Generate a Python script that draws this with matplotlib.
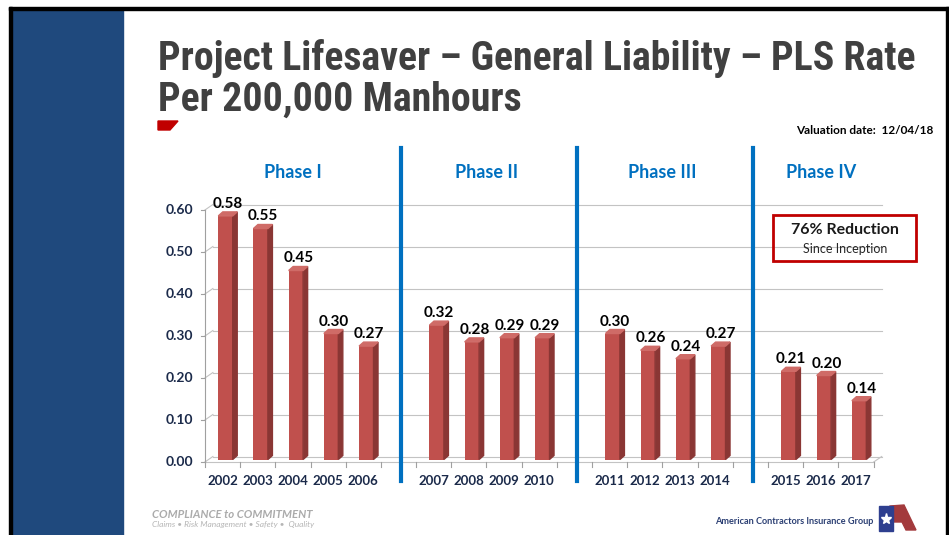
import numpy as np
import matplotlib
matplotlib.use("Agg")
from matplotlib import pyplot as plt
from matplotlib import font_manager
from matplotlib.patches import Rectangle, Polygon
from matplotlib.lines import Line2D
from matplotlib.transforms import IdentityTransform, blended_transform_factory

# data
years = ["2002", "2003", "2004", "2005", "2006",
         "2007", "2008", "2009", "2010",
         "2011", "2012", "2013", "2014",
         "2015", "2016", "2017"]
rates = [0.58, 0.55, 0.45, 0.30, 0.27,
         0.32, 0.28, 0.29, 0.29,
         0.30, 0.26, 0.24, 0.27,
         0.21, 0.20, 0.14]
phase_names = ["Phase I", "Phase II", "Phase III", "Phase IV"]
phase_sizes = [5, 4, 4, 3]
y_ticks = [0.0, 0.1, 0.2, 0.3, 0.4, 0.5, 0.6]

W, H = 949, 535
installed = {f.name for f in font_manager.fontManager.ttflist}
narrow = "Lato"
for cand in ["Liberation Sans Narrow", "Roboto Condensed", "Open Sans Condensed", "Lato"]:
    if cand in installed:
        narrow = cand
        break
plt.rcParams["font.family"] = ["Lato", "DejaVu Sans"]

RED = "#C0504D"
SIDE = "#8A3634"
TOP = "#CF6B67"
BLUE = "#0070C0"
NAVY = "#1B2A4A"
GRID = "#C3C3C3"

fig = plt.figure(figsize=(W / 100, H / 100), dpi=100)
fig.patch.set_facecolor("white")

def fx(x):
    return x / W

def fy(y):
    return 1 - y / H

# slide frame + sidebar
fig.add_artist(Rectangle((fx(12), 0), fx(123) - fx(12), fy(10), transform=fig.transFigure,
                         color="#1F497D", zorder=0))
fig.add_artist(Rectangle((fx(9), 0), fx(3), fy(7), transform=fig.transFigure, color="black"))
fig.add_artist(Rectangle((fx(9), fy(10)), fx(949) - fx(9), fy(7) - fy(10),
                         transform=fig.transFigure, color="black"))
fig.add_artist(Rectangle((fx(946), 0), fx(3), fy(7), transform=fig.transFigure, color="black"))

# slot positions: one empty slot between phases
xs = []
gaps = []
pos = 0
for i, n in enumerate(phase_sizes):
    xs += list(range(pos, pos + n))
    pos += n
    if i < len(phase_sizes) - 1:
        gaps.append(pos)
        pos += 1
xs = np.array(xs)
nslots = pos

ax = fig.add_axes([207.9 / W, 1 - 459.5 / H, 668.8 / W, 252 / H])
ax.set_xlim(-0.5, nslots - 0.5)
ax.set_ylim(0, 0.6)
ax.axis("off")

FRONT = (-3, -2.5)
BACK = (5, 3)
DEPTH = (4.5, 4)

def px(x, y, off=(0, 0)):
    p = ax.transData.transform((x, y))
    return p[0] + off[0], p[1] + off[1]

def seg(p1, p2, color=GRID, lw=0.8, z=1):
    ax.add_line(Line2D([p1[0], p2[0]], [p1[1], p2[1]], transform=IdentityTransform(),
                       color=color, lw=lw, clip_on=False, zorder=z))

x0, x1 = -0.5, nslots - 0.5
# back wall gridlines + left wall diagonals
for t in y_ticks:
    seg(px(x0, t, BACK), px(x1, t, BACK))
    seg(px(x0, t, FRONT), px(x0, t, BACK))
# floor
seg(px(x0, 0, FRONT), px(x1, 0, FRONT))
seg(px(x1, 0, FRONT), px(x1, 0, BACK))
# y axis
seg(px(x0, 0, FRONT), px(x0, 0.6, FRONT), color="#A0A0A0")
for t in y_ticks:
    p = px(x0, t, FRONT)
    seg(p, (p[0] - 4, p[1]), color="#A0A0A0")
    ax.text(p[0] - 12, p[1], f"{t:.2f}", transform=IdentityTransform(), ha="right",
            va="center", fontsize=10, fontweight="bold", color=NAVY)
# x tick marks at slot boundaries
for b in np.arange(-0.5, nslots, 1.0):
    p = px(b, 0, FRONT)
    seg(p, (p[0], p[1] - 5), color="#A0A0A0")

# bars
bw = 0.41
ax.bar(xs, rates, width=bw, color=RED, zorder=3)
for x, r, yr in zip(xs, rates, years):
    a = px(x + bw / 2, 0)
    b = px(x + bw / 2, r)
    side = [a, b, (b[0] + DEPTH[0], b[1] + DEPTH[1]), (a[0] + DEPTH[0], a[1] + DEPTH[1])]
    ax.add_patch(Polygon(side, closed=True, transform=IdentityTransform(), color=SIDE,
                         clip_on=False, zorder=3))
    c = px(x - bw / 2, r)
    top = [c, b, (b[0] + DEPTH[0], b[1] + DEPTH[1]), (c[0] + DEPTH[0], c[1] + DEPTH[1])]
    ax.add_patch(Polygon(top, closed=True, transform=IdentityTransform(), color=TOP,
                         clip_on=False, zorder=3))
    lp = px(x, r)
    ax.text(lp[0] + 2.5, lp[1] + 12, f"{r:.2f}", transform=IdentityTransform(),
            ha="center", va="center", fontsize=11, fontweight="bold", color="black", zorder=5)
    fp = px(x, 0, FRONT)
    ax.text(fp[0], fp[1] - 19, yr, transform=IdentityTransform(), ha="center",
            va="center", fontsize=9.5, fontweight="bold", color=NAVY)

# phase separators and labels
bt = blended_transform_factory(ax.transData, fig.transFigure)
for g in gaps:
    ax.add_line(Line2D([g, g], [fy(148), fy(481)], transform=bt, color=BLUE, lw=3,
                       clip_on=False, zorder=4))
start = 0
for name, n in zip(phase_names, phase_sizes):
    c = (xs[start] + xs[start + n - 1]) / 2
    p = px(c, 0, FRONT)
    fig.text(fx(p[0]), fy(172), name, ha="center", va="center", fontsize=13,
             fontweight="bold", color=BLUE)
    start += n

# title
t1 = fig.text(fx(158), fy(58), "Project Lifesaver \u2013 General Liability \u2013 PLS Rate",
              ha="left", va="center", fontsize=26, fontweight="bold", color="#404040",
              family=[narrow, "DejaVu Sans"])
t2 = fig.text(fx(158), fy(100), "Per 200,000 Manhours", ha="left", va="center",
              fontsize=26, fontweight="bold", color="#404040", family=[narrow, "DejaVu Sans"])
fig.canvas.draw()
w = t1.get_window_extent().width
size = 26 * 760 / w
t1.set_fontsize(size)
t2.set_fontsize(size)

fig.add_artist(Polygon([(fx(158), fy(121)), (fx(178), fy(121)), (fx(170), fy(130)),
                        (fx(158), fy(130))], closed=True, transform=fig.transFigure,
                       color="#C00000"))
fig.text(fx(933), fy(131), "Valuation date:  12/04/18", ha="right", va="center",
         fontsize=8.5, fontweight="bold", color="black")

# reduction box
fig.add_artist(Rectangle((fx(773), fy(261)), fx(916) - fx(773), fy(215) - fy(261),
                         transform=fig.transFigure, fill=False, edgecolor="#C00000", lw=2))
fig.text(fx(845), fy(230), "76% Reduction", ha="center", va="center", fontsize=11.5,
         fontweight="bold", color="#1A1A1A")
fig.text(fx(845), fy(249), "Since Inception", ha="center", va="center", fontsize=9,
         color="#262626")

# footer
fig.text(fx(152), fy(514), "COMPLIANCE to COMMITMENT", ha="left", va="center", fontsize=8.2,
         fontweight="bold", style="italic", color="#ABABAB")
fig.text(fx(152), fy(525), "Claims \u2022 Risk Management \u2022 Safety \u2022  Quality",
         ha="left", va="center", fontsize=6, style="italic", color="#B5B5B5")
fig.text(fx(873), fy(522), "American Contractors Insurance Group", ha="right", va="center",
         fontsize=6.6, fontweight="bold", color="#2B3F73")
fig.add_artist(Polygon([(fx(890), fy(506)), (fx(904), fy(505)), (fx(916), fy(530)),
                        (fx(906), fy(530)), (fx(902), fy(522)), (fx(893), fy(522)),
                        (fx(893), fy(530)), (fx(890), fy(530))], closed=True,
                       transform=fig.transFigure, color="#A33A3C"))
fig.add_artist(Rectangle((fx(879), fy(531)), fx(14), fy(506) - fy(531),
                         transform=fig.transFigure, color="#2E3F8F"))
fig.add_artist(Line2D([fx(886)], [fy(519)], transform=fig.transFigure, marker="*",
                      markersize=8, color="white", lw=0))

fig.savefig("out.png", dpi=100)
